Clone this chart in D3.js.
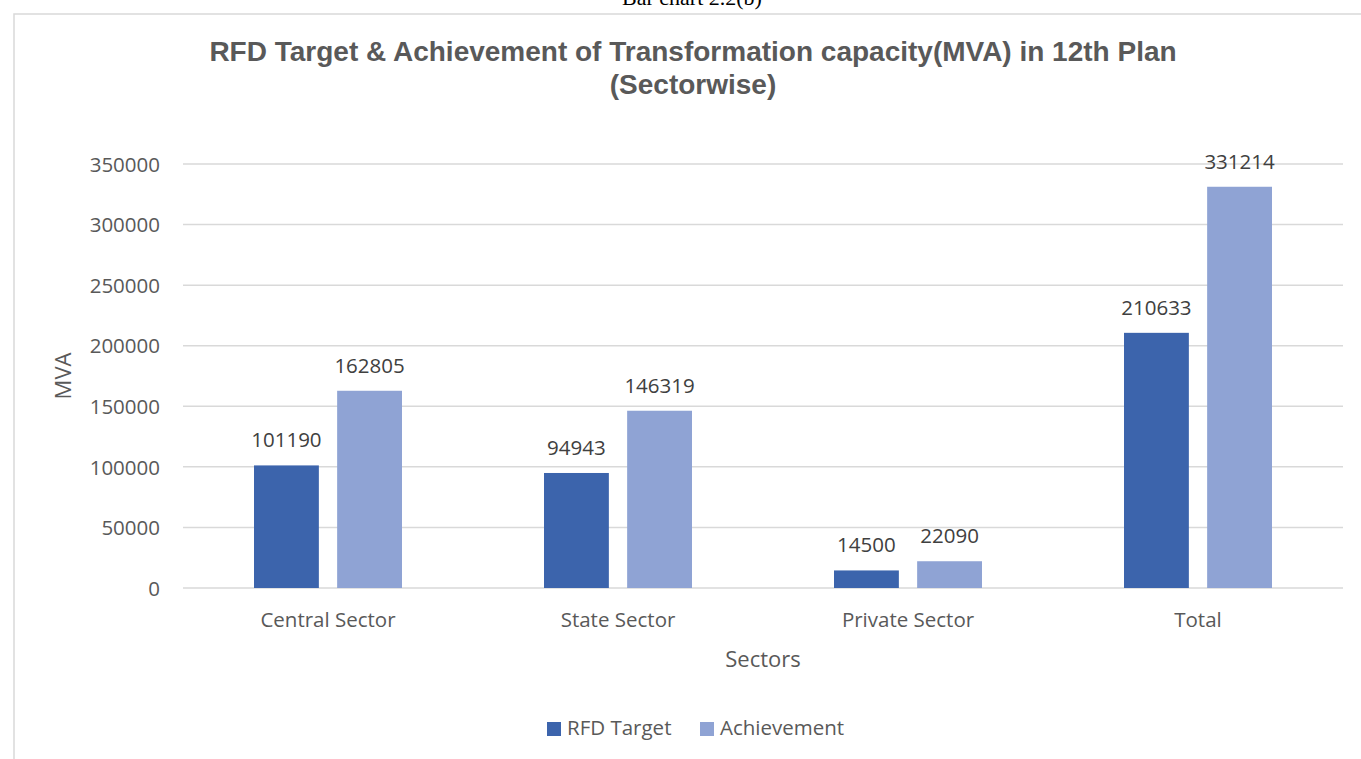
<!DOCTYPE html>
<html>
<head>
<meta charset="utf-8">
<script src="https://cdn.jsdelivr.net/npm/d3@7"></script>
<style>
  body { margin: 0; background: #fff; }
  svg { display: block; }
</style>
</head>
<body>
<svg id="chart"></svg>
<script>
var sectors = ['Central Sector', 'State Sector', 'Private Sector', 'Total'];
var seriesNames = ['RFD Target', 'Achievement'];
var rfdTarget = [101190, 94943, 14500, 210633];
var achievement = [162805, 146319, 22090, 331214];
var yTicks = [0, 50000, 100000, 150000, 200000, 250000, 300000, 350000];

var width = 1361;
var height = 759;
var colors = ['#3c64ac', '#8fa3d4'];
var textColor = '#595959';
var labelColor = '#404040';
var gridColor = '#d9d9d9';
var font = '"Open Sans", "Noto Sans", sans-serif';

var svg = d3.select('#chart')
            .attr('width', width)
            .attr('height', height);

// page caption, clipped at the top edge like the scan
svg.append('text')
   .attr('x', 692)
   .attr('y', 5)
   .attr('text-anchor', 'middle')
   .attr('font-family', '"Liberation Serif", "Times New Roman", serif')
   .attr('font-size', 22)
   .attr('fill', '#000')
   .text('Bar chart 2.2(b)');

// chart area border
svg.append('rect')
   .attr('x', 14)
   .attr('y', 14)
   .attr('width', 1400)
   .attr('height', 800)
   .attr('fill', 'none')
   .attr('stroke', gridColor)
   .attr('stroke-width', 1.5);

// title
var title = svg.append('text')
               .attr('text-anchor', 'middle')
               .attr('font-family', '"Liberation Sans", Arial, sans-serif')
               .attr('font-weight', 'bold')
               .attr('font-size', 28)
               .attr('fill', textColor);
title.append('tspan').attr('x', 693).attr('y', 61)
     .text('RFD Target & Achievement of Transformation capacity(MVA) in 12th Plan');
title.append('tspan').attr('x', 693).attr('y', 94)
     .text('(Sectorwise)');

var plotLeft = 183, plotRight = 1343, plotTop = 164, plotBottom = 588;

var x = d3.scaleBand()
          .domain(sectors)
          .range([plotLeft, plotRight])
          .paddingInner(0)
          .paddingOuter(0);

var x1 = d3.scaleBand()
           .domain(seriesNames)
           .range([71, 290 - 71])
           .paddingInner(0.22);

var y = d3.scaleLinear()
          .domain([0, 350000])
          .range([plotBottom, plotTop]);

// gridlines
svg.append('g')
   .selectAll('line')
   .data(yTicks)
   .enter()
   .append('line')
   .attr('x1', plotLeft)
   .attr('x2', plotRight)
   .attr('y1', function(d){ return y(d); })
   .attr('y2', function(d){ return y(d); })
   .attr('stroke', gridColor)
   .attr('stroke-width', 1.5);

// y axis labels
var yAxis = svg.append('g')
               .attr('transform', 'translate(' + (plotLeft - 13) + ',0)')
               .call(d3.axisLeft(y).tickValues(yTicks).tickSize(0).tickPadding(10).tickFormat(d3.format('d')));
yAxis.select('.domain').remove();
yAxis.selectAll('text')
     .attr('font-family', font)
     .attr('font-size', 20.5)
     .attr('fill', textColor)
     .attr('dy', '0.35em');

// x axis labels
var xAxis = svg.append('g')
               .attr('transform', 'translate(0,' + plotBottom + ')')
               .call(d3.axisBottom(x).tickSize(0).tickPadding(24));
xAxis.select('.domain').remove();
xAxis.selectAll('text')
     .attr('font-family', font)
     .attr('font-size', 20.5)
     .attr('fill', textColor);

// axis titles
svg.append('text')
   .attr('transform', 'translate(71,' + ((plotTop + plotBottom) / 2) + ') rotate(-90)')
   .attr('text-anchor', 'middle')
   .attr('font-family', font)
   .attr('font-size', 22)
   .attr('fill', textColor)
   .text('MVA');

svg.append('text')
   .attr('x', (plotLeft + plotRight) / 2)
   .attr('y', 667)
   .attr('text-anchor', 'middle')
   .attr('font-family', font)
   .attr('font-size', 22)
   .attr('fill', textColor)
   .text('Sectors');

// bars
var rows = sectors.map(function(s, i){
  return { sector: s, values: [rfdTarget[i], achievement[i]] };
});

var groups = svg.append('g')
                .selectAll('g')
                .data(rows)
                .enter()
                .append('g')
                .attr('transform', function(d){ return 'translate(' + x(d.sector) + ',0)'; });

groups.selectAll('rect')
      .data(function(d){ return d.values.map(function(v, j){ return { key: seriesNames[j], value: v, idx: j }; }); })
      .enter()
      .append('rect')
      .attr('x', function(d){ return x1(d.key); })
      .attr('y', function(d){ return y(d.value); })
      .attr('width', x1.bandwidth())
      .attr('height', function(d){ return y(0) - y(d.value); })
      .attr('fill', function(d){ return colors[d.idx]; });

groups.selectAll('text')
      .data(function(d){ return d.values.map(function(v, j){ return { key: seriesNames[j], value: v }; }); })
      .enter()
      .append('text')
      .attr('x', function(d){ return x1(d.key) + x1.bandwidth() / 2; })
      .attr('y', function(d){ return y(d.value) - 18; })
      .attr('text-anchor', 'middle')
      .attr('font-family', font)
      .attr('font-size', 20.5)
      .attr('fill', labelColor)
      .text(function(d){ return d.value; });

// legend
var legendX = [547, 700];
var legend = svg.append('g')
                .selectAll('g')
                .data(seriesNames)
                .enter()
                .append('g')
                .attr('transform', function(d, i){ return 'translate(' + legendX[i] + ',722)'; });

legend.append('rect')
      .attr('width', 14)
      .attr('height', 14)
      .attr('fill', function(d, i){ return colors[i]; });

legend.append('text')
      .attr('x', 20)
      .attr('y', 13)
      .attr('font-family', font)
      .attr('font-size', 20.5)
      .attr('fill', textColor)
      .text(function(d){ return d; });
</script>
</body>
</html>
